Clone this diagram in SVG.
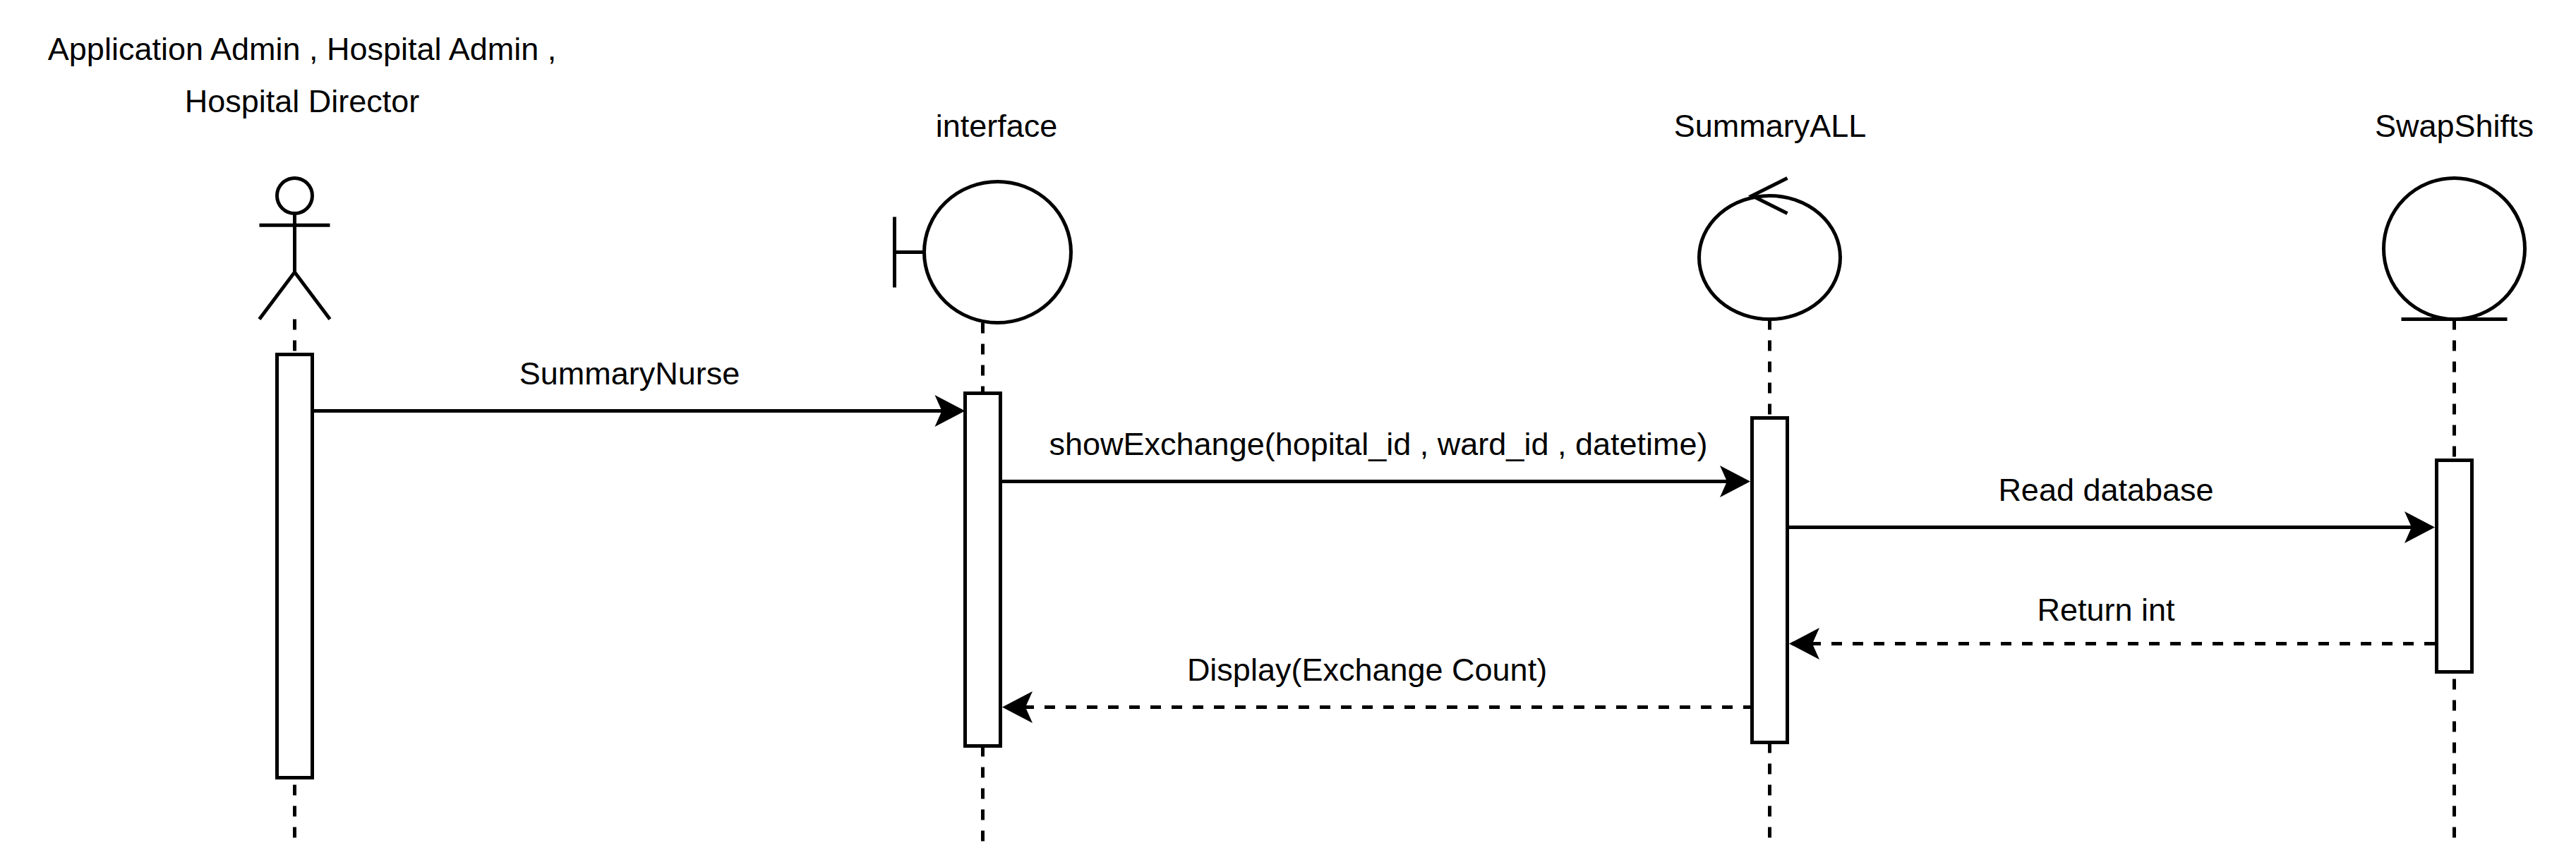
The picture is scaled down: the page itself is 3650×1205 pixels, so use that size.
<svg xmlns="http://www.w3.org/2000/svg" width="3650" height="1205" viewBox="0 0 3650 1205">
  <style>
    text { font-family: "Liberation Sans", Arial, Helvetica, sans-serif; font-size: 45px; fill: #000; text-anchor: middle; }
    .s { fill: none; stroke: #000; stroke-width: 5; }
    .f { fill: #fff; stroke: #000; stroke-width: 5; }
    .life { fill: none; stroke: #000; stroke-width: 5; stroke-dasharray: 15 15; }
    .msg { fill: none; stroke: #000; stroke-width: 5; marker-end: url(#arrow); }
    .ret { fill: none; stroke: #000; stroke-width: 5; stroke-dasharray: 15 15; marker-end: url(#arrow); }
  </style>
  <defs>
    <marker id="arrow" markerUnits="userSpaceOnUse" markerWidth="44" markerHeight="46" viewBox="0 0 44 46" refX="14" refY="23" orient="auto">
      <path d="M1,0.5 L44,23 L1,45.5 L11,23 Z" fill="#000"/>
    </marker>
  </defs>
  <rect width="3650" height="1205" fill="#fff"/>

  <g id="connectors">
    <path class="life" d="M417.5,452.5 V1192.5"/>
    <path class="life" d="M1392.5,457.5 V1192.5"/>
    <path class="life" d="M2507.5,452.5 V1192.5"/>
    <path class="life" d="M3477.5,452.5 V1192.5"/>
    <path class="msg" d="M442.5,582.5 H1337.5"/>
    <path class="msg" d="M1417.5,682.5 H2450"/>
    <path class="msg" d="M2532.5,747.5 H3420"/>
    <path class="ret" d="M3450,912.5 H2565"/>
    <path class="ret" d="M2485,1002.5 H1450"/>
  </g>

  <g id="actor">
    <text x="428" y="85">Application Admin , Hospital Admin ,</text>
    <text x="428" y="159">Hospital Director</text>
    <ellipse class="f" cx="417.5" cy="277.5" rx="25" ry="25"/>
    <path class="s" d="M417.5,302.5 V385.8 M367.5,319.2 H467.5 M367.5,452.5 L417.5,385.8 L467.5,452.5"/>
  </g>
  <g id="actor-activation"><rect class="f" x="392.5" y="502.5" width="50" height="600"/></g>

  <g id="interface">
    <text x="1412" y="194">interface</text>
    <path class="s" d="M1267.5,307.5 V407.5 M1267.5,357.5 H1309.5"/>
    <ellipse class="f" cx="1413.5" cy="357.5" rx="104" ry="100"/>
  </g>
  <g id="interface-activation"><rect class="f" x="1367.5" y="557.5" width="50" height="500"/></g>

  <g id="summaryall">
    <text x="2508" y="194">SummaryALL</text>
    <ellipse class="f" cx="2507.5" cy="365" rx="100" ry="87.5"/>
    <path class="s" d="M2532.5,252.5 L2482.5,277.5 L2532.5,302.5"/>
  </g>
  <g id="summaryall-activation"><rect class="f" x="2482.5" y="592.5" width="50" height="460"/></g>

  <g id="swapshifts">
    <text x="3477.5" y="194">SwapShifts</text>
    <ellipse class="f" cx="3477.5" cy="352.5" rx="100" ry="100"/>
    <path class="s" d="M3402.5,452.5 H3552.5"/>
  </g>
  <g id="swapshifts-activation"><rect class="f" x="3452.5" y="652.5" width="50" height="300"/></g>

  <g id="labels">
    <text x="892" y="545">SummaryNurse</text>
    <text x="1953" y="645">showExchange(hopital_id , ward_id , datetime)</text>
    <text x="2984" y="710">Read database</text>
    <text x="2984" y="880">Return int</text>
    <text x="1937" y="965">Display(Exchange Count)</text>
  </g>
</svg>
